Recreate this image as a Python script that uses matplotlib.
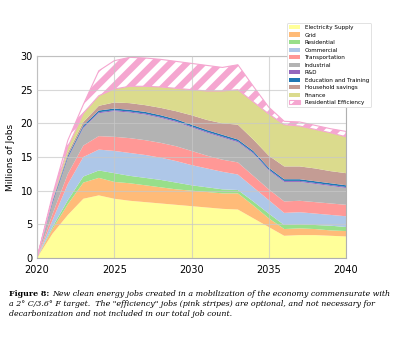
import matplotlib
matplotlib.use("Agg")
import matplotlib.pyplot as plt
import numpy as np

# yearly values, millions of jobs
years = list(range(2020, 2041))
electricity = [0, 3.6, 6.4, 8.8, 9.3, 8.8, 8.5, 8.3, 8.1, 7.9, 7.7, 7.5, 7.3, 7.2, 5.9, 4.6, 3.3, 3.4, 3.4, 3.3, 3.2]
grid = [0, 0.7, 1.6, 2.4, 2.6, 2.5, 2.6, 2.5, 2.4, 2.3, 2.3, 2.3, 2.3, 2.4, 1.9, 1.3, 1.0, 1.0, 0.9, 0.8, 0.8]
residential = [0, 0.3, 0.6, 0.9, 1.1, 1.3, 1.1, 1.1, 1.1, 1.0, 0.8, 0.7, 0.6, 0.5, 0.6, 0.7, 0.6, 0.6, 0.6, 0.7, 0.6]
commercial = [0, 1.0, 2.4, 2.9, 3.1, 3.3, 3.4, 3.4, 3.3, 3.2, 3.0, 2.8, 2.6, 2.3, 2.1, 2.0, 1.8, 1.8, 1.7, 1.6, 1.6]
transportation = [0, 0.9, 1.5, 1.7, 2.0, 2.1, 2.2, 2.2, 2.2, 2.2, 2.1, 1.9, 1.8, 1.8, 1.7, 1.6, 1.7, 1.7, 1.7, 1.7, 1.7]
industrial = [0, 1.5, 2.3, 2.6, 3.4, 3.8, 3.8, 3.8, 3.7, 3.6, 3.5, 3.4, 3.3, 3.0, 3.3, 2.8, 2.9, 2.8, 2.7, 2.6, 2.5]
r_and_d = [0] + [0.15] * 20
education = [0] + [0.25] * 20
household = [0, 0.2, 0.4, 0.5, 0.7, 0.9, 1.0, 1.0, 1.1, 1.2, 1.4, 1.5, 1.7, 2.2, 1.7, 1.8, 1.9, 1.9, 1.9, 1.8, 1.8]
finance = [0, 0.2, 0.9, 1.3, 1.5, 2.0, 2.5, 2.8, 3.1, 3.4, 3.8, 4.3, 4.8, 5.2, 5.6, 6.2, 6.2, 6.0, 5.8, 5.7, 5.4]
efficiency = [0, 0.5, 1.0, 1.3, 3.7, 4.2, 4.3, 4.2, 4.1, 4.0, 3.9, 3.8, 3.5, 3.7, 2.3, 1.0, 0.5, 0.6, 0.6, 0.6, 0.8]

labels = ["Electricity Supply", "Grid", "Residential", "Commercial", "Transportation",
          "Industrial", "R&D", "Education and Training", "Household savings", "Finance",
          "Residential Efficiency"]
colors = ["#ffff99", "#ffbb78", "#98df8a", "#aec7e8", "#ff9896", "#b3b3b3",
          "#9467bd", "#1f77b4", "#c49c94", "#dbdb8d", "white"]
pink = "#f5a6d0"

caption_bold = "Figure 8:"
caption_lines = [
    "New clean energy jobs created in a mobilization of the economy commensurate with",
    "a 2° C/3.6° F target.  The \"efficiency\" jobs (pink stripes) are optional, and not necessary for",
    "decarbonization and not included in our total job count.",
]

plt.rcParams["hatch.color"] = pink
plt.rcParams["hatch.linewidth"] = 4.5

fig = plt.figure(figsize=(4.0, 3.41), dpi=100)
ax = fig.add_axes([0.0925, 0.2434, 0.7725, 0.5924])

polys = ax.stackplot(years, electricity, grid, residential, commercial, transportation,
                     industrial, r_and_d, education, household, finance, efficiency,
                     colors=colors, labels=labels, linewidth=0)
polys[-1].set_hatch("//")
polys[-1].set_edgecolor(pink)
polys[-1].set_linewidth(0.8)

ax.set_xlim(2020, 2040)
ax.set_ylim(0, 30)
ax.set_xticks([2020, 2025, 2030, 2035, 2040])
ax.set_yticks([0, 5, 10, 15, 20, 25, 30])
ax.tick_params(axis="both", length=0, labelsize=7)
ax.tick_params(axis="y", pad=3)
ax.tick_params(axis="x", pad=5)
ax.set_ylabel("Millions of Jobs", fontsize=6.5, labelpad=4)
ax.grid(True, color="#c8c8c8", linewidth=0.8, alpha=0.7)
ax.set_axisbelow(False)
for s in ax.spines.values():
    s.set_color("#b0b0b0")
    s.set_linewidth(0.8)

leg = fig.legend(loc="upper left", bbox_to_anchor=(0.7175, 0.9326), fontsize=4.1,
                 labelspacing=0.43, handlelength=1.9, handleheight=0.75, borderpad=0.35,
                 handletextpad=0.9, borderaxespad=0, framealpha=1, edgecolor="#dddddd",
                 fancybox=True)
leg.get_frame().set_linewidth(0.6)

# caption: fit the first line to the reference width
r = fig.canvas.get_renderer()
fs = 6.0
probe_b = fig.text(0, 0, caption_bold + " ", fontsize=fs, fontweight="bold", family="DejaVu Serif")
probe_i = fig.text(0, 0, caption_lines[0], fontsize=fs, style="italic", family="DejaVu Serif")
w = probe_b.get_window_extent(renderer=r).width + probe_i.get_window_extent(renderer=r).width
probe_b.remove()
probe_i.remove()
fs = fs * 380 / w

ys = [1 - 294 / 341, 1 - 304 / 341, 1 - 313.5 / 341]
x0 = 9 / 400
t1 = fig.text(x0, ys[0], caption_bold, fontsize=fs, fontweight="bold", family="DejaVu Serif", va="center")
bb = t1.get_window_extent(renderer=r)
fig.text((bb.x1 + fs * 0.45) / 400, ys[0], caption_lines[0], fontsize=fs, style="italic",
         family="DejaVu Serif", va="center")
fig.text(x0, ys[1], caption_lines[1], fontsize=fs, style="italic", family="DejaVu Serif", va="center")
fig.text(x0, ys[2], caption_lines[2], fontsize=fs, style="italic", family="DejaVu Serif", va="center")

fig.savefig("out.png", dpi=100)
